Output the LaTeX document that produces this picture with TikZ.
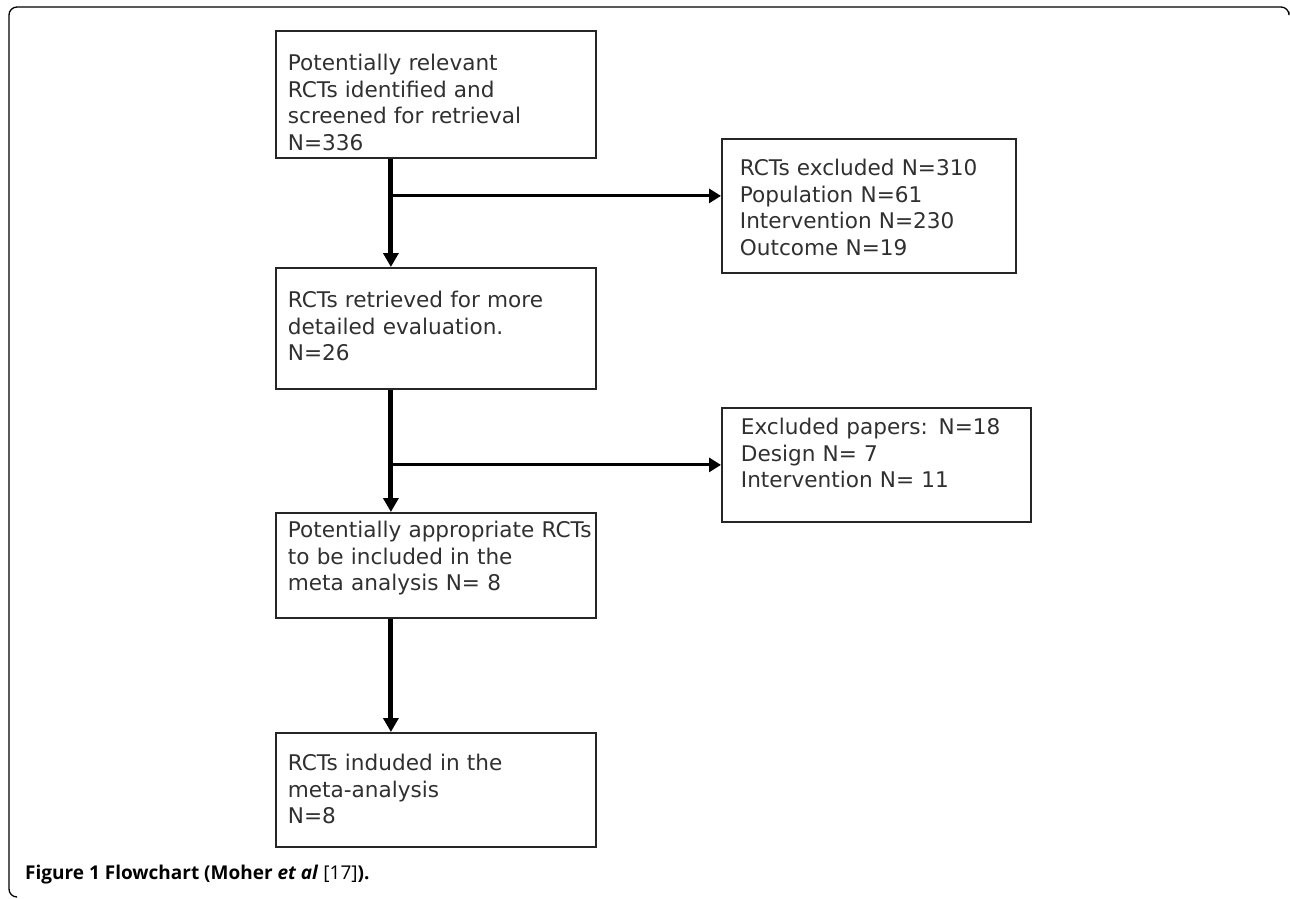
\documentclass[tikz,border=0pt]{standalone}
\usepackage{fontspec}
\setmainfont{DejaVu Sans}
\newfontfamily\capfont{Open Sans}
\usepackage{xcolor}
\usepackage{tikz}
\usetikzlibrary{arrows.meta,positioning}
\definecolor{boxtext}{HTML}{303030}

\begin{document}
\begin{tikzpicture}[x=1pt, y=-1pt,
    flowbox/.style={draw=black!85, line width=1.8pt, anchor=north west, align=left,
      inner xsep=12pt, inner ysep=0pt, text=boxtext, font=\fontsize{21.6}{26.5}\selectfont},
    vline/.style={line width=5pt, -{Triangle[length=14pt,width=15pt]}},
    hline/.style={line width=3pt, -{Triangle[length=12pt,width=14pt]}}]
    \useasboundingbox (0,0) rectangle (1290,899);

    % Outer frame
    \draw[line width=1.3pt, rounded corners=8pt] (1289,12) -- (1289,7) -- (9,7) -- (9,897) -- (16,897);

    % Main column
    \node[flowbox, text width=296pt, text height=40pt, text depth=87pt] (screen) at (275,30)
      {Potentially relevant\\RCTs identified and\\screened for retrieval\\N=336};
    \node[flowbox, text width=296pt, text height=40pt, text depth=81pt] (retrieved) at (275,267)
      {RCTs retrieved for more\\detailed evaluation.\\N=26};
    \node[flowbox, text width=296pt, text height=25pt, text depth=80pt] (appropriate) at (275,512)
      {\mbox{Potentially appropriate RCTs}\\to be included in the\\meta analysis N= 8};
    \node[flowbox, text width=296pt, text height=38pt, text depth=76pt] (included) at (275,732)
      {RCTs induded in the\\meta-analysis\\N=8};

    % Exclusions
    \node[flowbox, inner xsep=18pt, text width=258pt, text height=37pt, text depth=97pt] (excluded) at (721,138)
      {RCTs excluded N=310\\Population N=61\\Intervention N=230\\Outcome N=19};
    \node[flowbox, inner xsep=19pt, text width=271pt, text height=27pt, text depth=87pt] (papers) at (721,407)
      {Excluded papers: N=18\\Design N= 7\\Intervention N= 11};

    % Arrows
    \draw[vline] ([xshift=-45pt]screen.south) -- ([xshift=-45pt]retrieved.north);
    \draw[hline] ([xshift=-45pt]screen.south |- excluded.west) ++(0,-10) -- ([yshift=10pt]excluded.west);
    \draw[vline] ([xshift=-45pt]retrieved.south) -- ([xshift=-45pt]appropriate.north);
    \draw[hline] ([xshift=-45pt]retrieved.south |- papers.west) -- (papers.west);
    \draw[vline] ([xshift=-45pt]appropriate.south) -- ([xshift=-45pt]included.north);

    % Caption
    \node[anchor=base west, inner sep=0pt, font=\capfont\fontsize{19}{23}\selectfont] (caption) at (25,879)
      {\textbf{Figure 1 Flowchart (Moher \textit{et al}} [17]\textbf{).}};
\end{tikzpicture}
\end{document}
